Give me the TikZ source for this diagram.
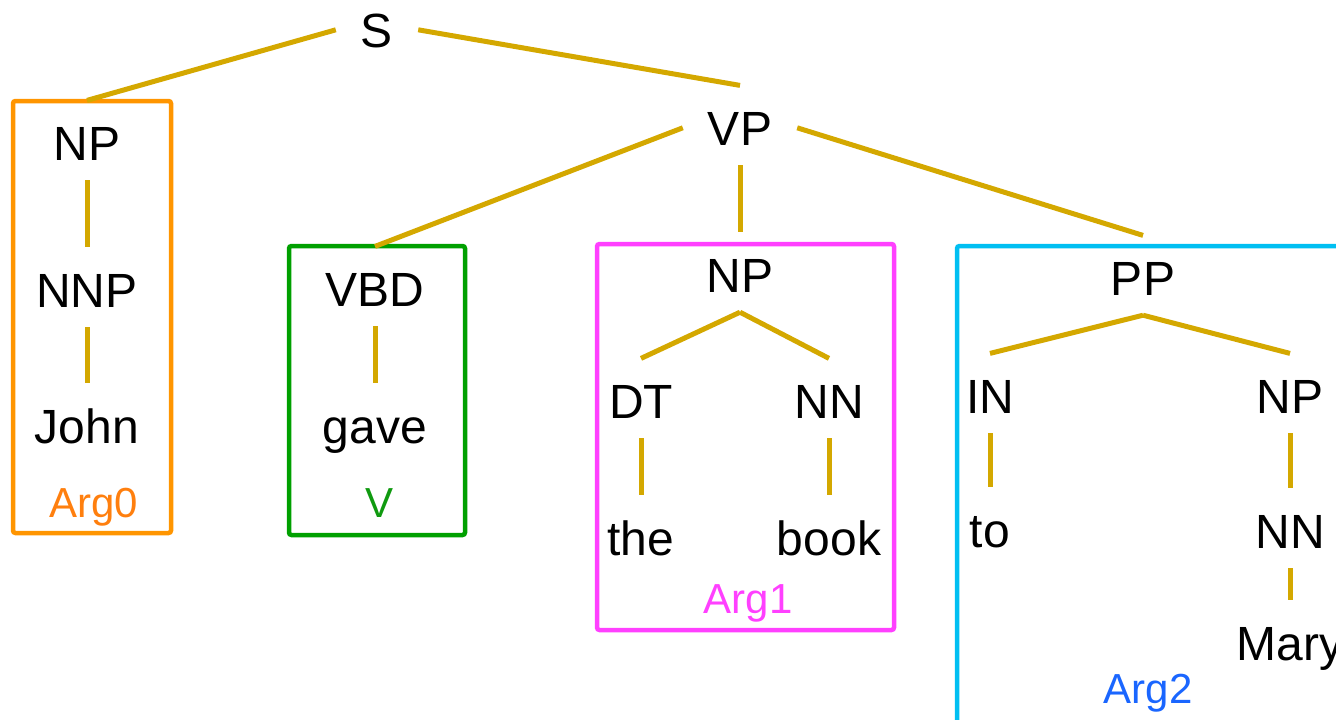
\documentclass[tikz,border=0pt]{standalone}
\usepackage{fontspec}
\setmainfont{Liberation Sans}
\definecolor{branchgold}{HTML}{D4A800}
\definecolor{arg0box}{HTML}{FF9500}
\definecolor{arg0text}{HTML}{FF7F0E}
\definecolor{vbox}{HTML}{00A000}
\definecolor{vtext}{HTML}{109A10}
\definecolor{arg1col}{HTML}{FF40FF}
\definecolor{arg2box}{HTML}{00BFF2}
\definecolor{arg2text}{HTML}{1A66FF}

% tree edges: below parent -> above child, or from the side of the parent
\newcommand\treedown[2]{\draw[branch] ([yshift=-20pt]#1.south) -- ([yshift=25pt]#2.north);}
\newcommand\treeleft[2]{\draw[branch] ([xshift=-25pt]#1.west) -- ([yshift=25pt]#2.north);}
\newcommand\treeright[2]{\draw[branch] ([xshift=25pt]#1.east) -- ([yshift=25pt]#2.north);}

\begin{document}
\begin{tikzpicture}[x=1pt,y=-1pt,
  lbl/.style={font=\fontsize{48}{56}\selectfont, text height=34.4pt, text depth=0pt,
              inner sep=0pt, anchor=base},
  arglbl/.style={font=\fontsize{42}{50}\selectfont, inner sep=0pt, anchor=base},
  branch/.style={draw=branchgold, line width=5pt},
  argbox/.style={line width=4.5pt, rounded corners=2.5pt}]

\clip (0,0) rectangle (1336,720);

% argument boxes
\draw[argbox, draw=arg0box] (13,101) rectangle (171,533);
\draw[argbox, draw=vbox]    (289,246) rectangle (465,535);
\draw[argbox, draw=arg1col] (597,244) rectangle (894,630);
\draw[argbox, draw=arg2box] (957,246) rectangle (1360,745);

% tree labels
\node[lbl] (s)    at (377,47)  {S};
\node[lbl] (vp)   at (740,145) {VP};

\node[lbl] (np0)  at (87,160)  {NP};
\node[lbl] (nnp)  at (87,307)  {NNP};
\node[lbl] (john) at (87,443)  {John};

\node[lbl] (vbd)  at (375,306) {VBD};
\node[lbl] (gave) at (375,443) {gave};

\node[lbl] (np1)  at (740,292) {NP};
\node[lbl] (dt)   at (641,418) {DT};
\node[lbl] (nn1)  at (829,418) {NN};
\node[lbl] (the)  at (641,555) {the};
\node[lbl] (book) at (829,555) {book};

\node[lbl] (pp)   at (1143,295) {PP};
\node[lbl] (in)   at (990,413)  {IN};
\node[lbl] (np2)  at (1290,413) {NP};
\node[lbl] (to)   at (990,547)  {to};
\node[lbl] (nn2)  at (1290,548) {NN};
\node[lbl] (mary) at (1290,660) {Mary};

% role labels
\node[arglbl, text=arg0text] (a0) at (94,517)   {Arg0};
\node[arglbl, text=vtext]    (av) at (380,517)  {V};
\node[arglbl, text=arg1col]  (a1) at (748,613)  {Arg1};
\node[arglbl, text=arg2text] (a2) at (1148,703) {Arg2};

% branches
\treeleft{s}{np0}
\treeright{s}{vp}
\treeleft{vp}{vbd}
\treedown{vp}{np1}
\treeright{vp}{pp}
\treedown{np0}{nnp}
\treedown{nnp}{john}
\treedown{vbd}{gave}
\treedown{np1}{dt}
\treedown{np1}{nn1}
\treedown{dt}{the}
\treedown{nn1}{book}
\treedown{pp}{in}
\treedown{pp}{np2}
\treedown{in}{to}
\treedown{np2}{nn2}
\treedown{nn2}{mary}
\end{tikzpicture}
\end{document}
